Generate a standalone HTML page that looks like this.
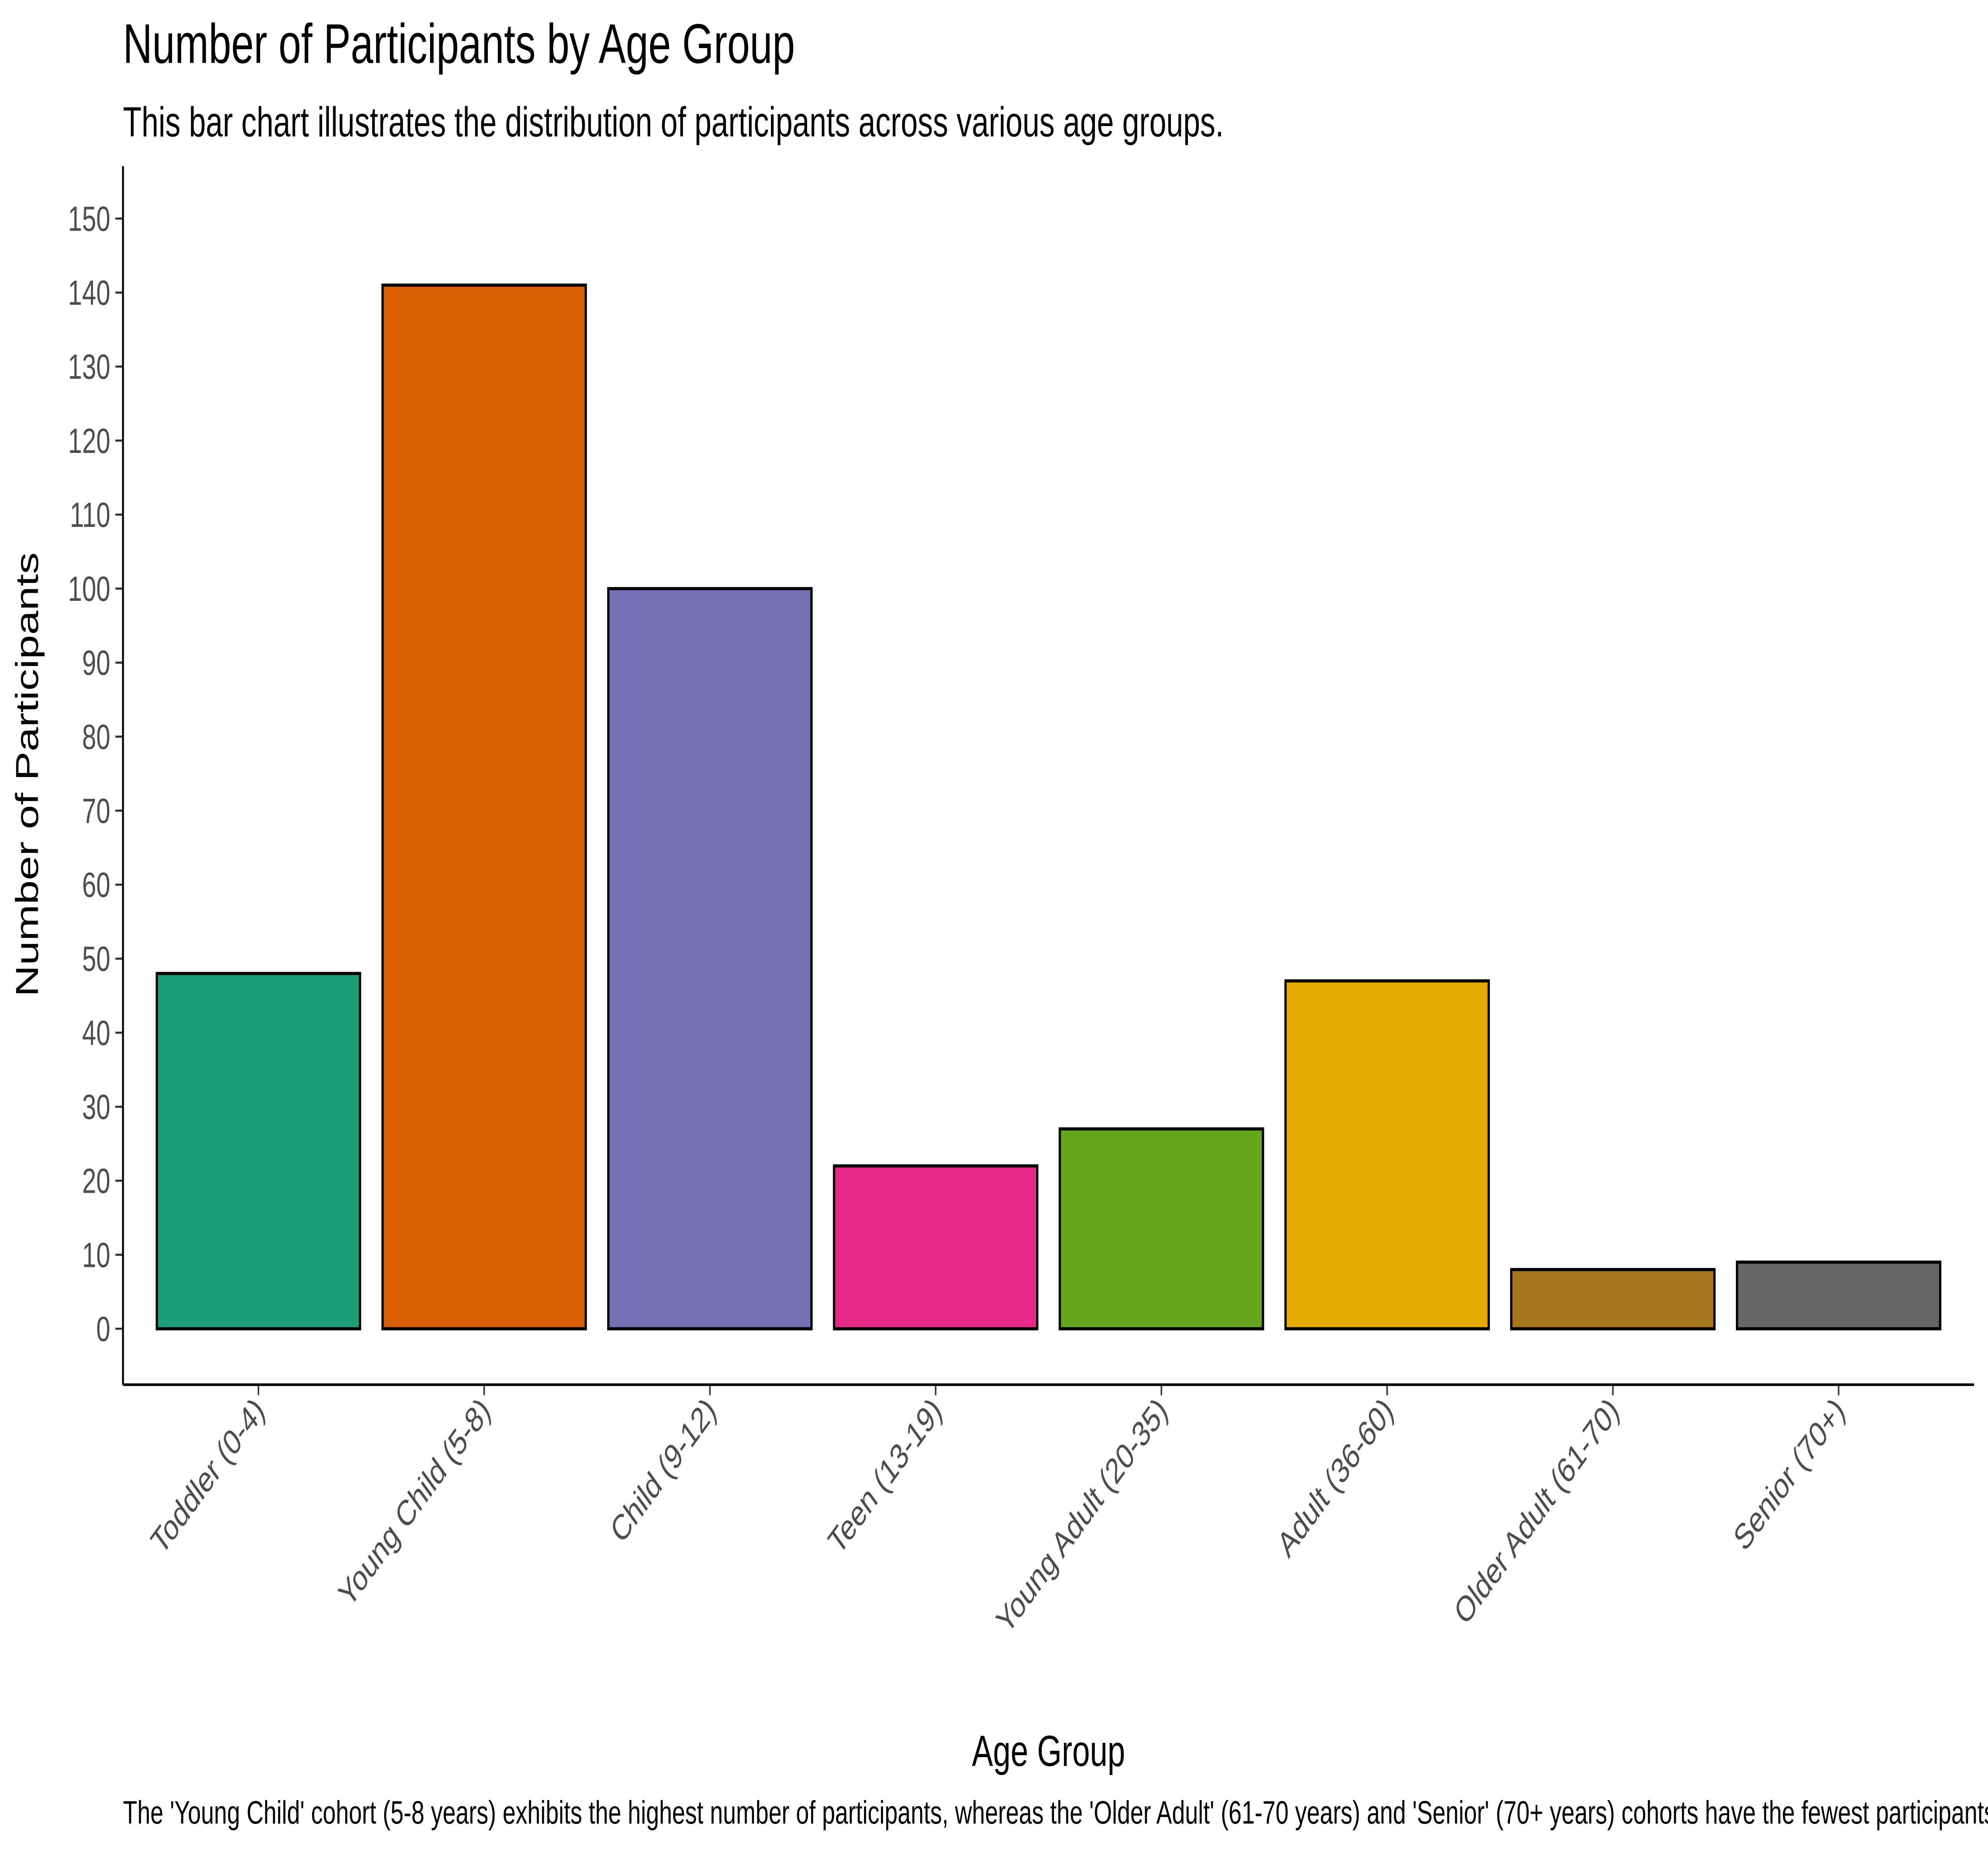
<!DOCTYPE html>
<html><head><meta charset="utf-8"><style>
html,body{margin:0;padding:0;background:#fff;overflow:hidden;width:100%;height:100%}
svg{display:block;width:100vw;height:100vh;font-family:"Liberation Sans",Arial,sans-serif}
</style></head><body>
<svg id="chart" viewBox="0 0 1568 1058.7" preserveAspectRatio="none" xmlns="http://www.w3.org/2000/svg">
<rect width="1568" height="1058.7" fill="#fff"/>
<text x="97" y="36" font-size="32" fill="#000">Number of Participants by Age Group</text>
<text x="97" y="78" font-size="24" fill="#000">This bar chart illustrates the distribution of participants across various age groups.</text>
<g id="yticks"></g><g id="bars"></g><g id="xticks"></g>
<line x1="97" y1="95" x2="97" y2="792" stroke="#000" stroke-width="1.5"/>
<line x1="97" y1="792" x2="1557" y2="792" stroke="#000" stroke-width="1.5"/>
<text transform="translate(30,443) rotate(-90)" text-anchor="middle" font-size="25" fill="#000">Number of Participants</text>
<text x="827" y="1010" text-anchor="middle" font-size="25" fill="#000">Age Group</text>
<text x="97" y="1043" font-size="18.5" fill="#000">The 'Young Child' cohort (5-8 years) exhibits the highest number of participants, whereas the 'Older Adult' (61-70 years) and 'Senior' (70+ years) cohorts have the fewest participants.</text>
</svg>
<script>
const categories=["Toddler (0-4)","Young Child (5-8)","Child (9-12)","Teen (13-19)","Young Adult (20-35)","Adult (36-60)","Older Adult (61-70)","Senior (70+)"];
const values=[48,141,100,22,27,47,8,9];
const colors=["#1b9e77","#d95f02","#7570b3","#e7298a","#66a61e","#e6ab02","#a6761d","#666666"];
const yTicks=[0,10,20,30,40,50,60,70,80,90,100,110,120,130,140,150];
const NS="http://www.w3.org/2000/svg";
function y(v){return 760-v*(635/150);}
const step=(1557-97)/(categories.length+0.2);
function xc(i){return 97+step*0.6+i*step;}
const bw=step*0.9;
const yt=document.getElementById('yticks');
yTicks.forEach(t=>{
 const l=document.createElementNS(NS,'line');
 
 
 l.setAttribute('x1',91);l.setAttribute('x2',97);l.setAttribute('y1',y(t));l.setAttribute('y2',y(t));
 l.setAttribute('stroke','#333');l.setAttribute('stroke-width',1.2);yt.appendChild(l);
 const s=document.createElementNS(NS,'text');
 
 
 s.setAttribute('x',87);s.setAttribute('y',y(t)+7);s.setAttribute('text-anchor','end');
 s.setAttribute('font-size',20);s.setAttribute('fill','#4d4d4d');s.textContent=t;yt.appendChild(s);
});
const bg=document.getElementById('bars'),xt=document.getElementById('xticks');
categories.forEach((c,i)=>{
 const r=document.createElementNS(NS,'rect');
 
 
 r.setAttribute('x',xc(i)-bw/2);r.setAttribute('y',y(values[i]));
 r.setAttribute('width',bw);r.setAttribute('height',y(0)-y(values[i]));
 r.setAttribute('fill',colors[i]);r.setAttribute('stroke','#000');r.setAttribute('stroke-width',1.8);
 bg.appendChild(r);
 const l=document.createElementNS(NS,'line');
 
 
 l.setAttribute('x1',xc(i));l.setAttribute('x2',xc(i));l.setAttribute('y1',792);l.setAttribute('y2',798);
 l.setAttribute('stroke','#333');l.setAttribute('stroke-width',1.2);xt.appendChild(l);
 const s=document.createElementNS(NS,'text');
 
 
 s.setAttribute('transform','translate('+(xc(i)+6)+',808) rotate(-45)');
 s.setAttribute('text-anchor','end');s.setAttribute('font-size',20.5);s.setAttribute('fill','#4d4d4d');
 s.textContent=c;xt.appendChild(s);
});
</script>
</body></html>
